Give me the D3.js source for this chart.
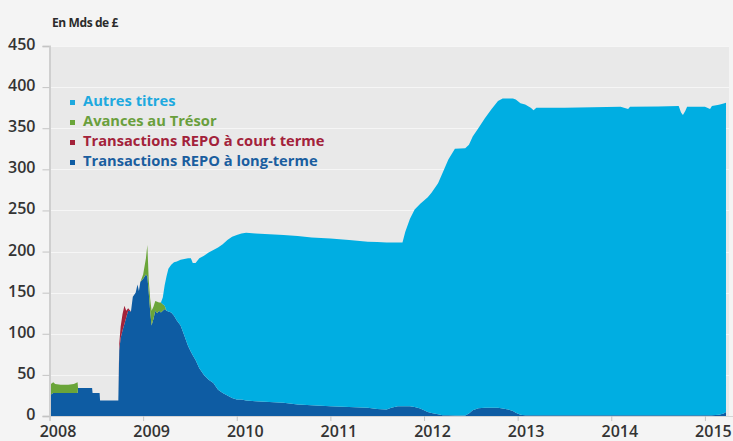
<!DOCTYPE html>
<html>
<head>
<meta charset="utf-8">
<script src="https://cdn.jsdelivr.net/npm/d3@7"></script>
<style>
  html, body { margin: 0; padding: 0; background: #f4f4f4; }
  svg { display: block; }
  text { font-family: "Open Sans", "DejaVu Sans", sans-serif; }
</style>
</head>
<body>
<svg id="chart" width="733" height="441"></svg>
<script>
// Bank of England balance-sheet assets, in £ bn, by date (decimal years)
const dates = [
  2008.000, 2008.015, 2008.040, 2008.060, 2008.120, 2008.200, 2008.260, 2008.300, 2008.305, 2008.455,
  2008.460, 2008.535, 2008.540, 2008.735, 2008.745, 2008.760, 2008.780, 2008.800, 2008.820, 2008.840,
  2008.870, 2008.890, 2008.920, 2008.940, 2008.955, 2008.970, 2009.000, 2009.030, 2009.045, 2009.060,
  2009.075, 2009.090, 2009.110, 2009.130, 2009.150, 2009.170, 2009.190, 2009.210, 2009.230, 2009.250,
  2009.270, 2009.300, 2009.330, 2009.360, 2009.400, 2009.440, 2009.480, 2009.510, 2009.530, 2009.560,
  2009.600, 2009.650, 2009.700, 2009.750, 2009.800, 2009.850, 2009.900, 2009.950, 2010.000, 2010.050,
  2010.100, 2010.200, 2010.350, 2010.500, 2010.650, 2010.800, 2011.000, 2011.200, 2011.400, 2011.500,
  2011.600, 2011.650, 2011.720, 2011.770, 2011.800, 2011.850, 2011.900, 2011.960, 2012.000, 2012.040,
  2012.080, 2012.150, 2012.200, 2012.260, 2012.330, 2012.440, 2012.480, 2012.520, 2012.580, 2012.650,
  2012.720, 2012.790, 2012.840, 2012.900, 2012.950, 2012.980, 2013.030, 2013.080, 2013.140, 2013.170,
  2013.200, 2013.500, 2013.800, 2014.100, 2014.180, 2014.200, 2014.500, 2014.720, 2014.745, 2014.765,
  2014.790, 2014.810, 2015.000, 2015.055, 2015.075, 2015.150, 2015.200, 2015.225
];

// Transactions REPO à long-terme
const repoLong = [
  20, 26, 28, 28, 28, 28, 28, 28, 34, 34,
  28, 28, 19, 19, 80, 95, 104, 112, 120, 128,
  127, 145, 150, 160, 152, 163, 167, 172, 170, 150,
  128, 110, 118, 128, 125, 128, 126, 128, 130, 128,
  127, 126, 122, 116, 110, 98, 85, 78, 74, 68,
  58, 50, 44, 40, 32, 28, 25, 22, 20, 20,
  19, 18, 17, 16, 14, 13, 12, 11, 10, 8.5,
  8, 10, 12, 12, 12, 12, 11, 9, 7, 5,
  3.5, 2, 1, 1, 0.5, 0.5, 3, 7, 9.5, 10,
  10, 10, 9, 8, 6, 4, 1.5, 1, 1, 1,
  1, 1, 1, 1, 1, 1, 1, 1, 1, 1,
  1, 1, 1, 1, 1, 1.5, 3, 5
];

// Transactions REPO à court terme
const repoShort = [
  0, 0, 0, 0, 0, 0, 0, 0, 0, 0,
  0, 0, 0, 0, 8, 14, 20, 22, 8, 3,
  0, 0, 0, 0, 0, 0, 0, 0, 0, 0,
  0, 0, 0, 0, 0, 0, 0, 0, 0, 0,
  0, 0, 0, 0, 0, 0, 0, 0, 0, 0,
  0, 0, 0, 0, 0, 0, 0, 0, 0, 0,
  0, 0, 0, 0, 0, 0, 0, 0, 0, 0,
  0, 0, 0, 0, 0, 0, 0, 0, 0, 0,
  0, 0, 0, 0, 0, 0, 0, 0, 0, 0,
  0, 0, 0, 0, 0, 0, 0, 0, 0, 0,
  0, 0, 0, 0, 0, 0, 0, 0, 0, 0,
  0, 0, 0, 0, 0, 0, 0, 0
];

// Avances au Trésor
const treasury = [
  17, 13, 13, 11, 10, 10, 11, 13, 0, 0,
  0, 0, 0, 0, 0, 0, 0, 0, 0, 0,
  0, 0, 0, 0, 0, 0, 5, 20, 38, 15,
  15, 18, 15, 12, 14, 10, 12, 8, 4, 0,
  0, 0, 0, 0, 0, 0, 0, 0, 0, 0,
  0, 0, 0, 0, 0, 0, 0, 0, 0, 0,
  0, 0, 0, 0, 0, 0, 0, 0, 0, 0,
  0, 0, 0, 0, 0, 0, 0, 0, 0, 0,
  0, 0, 0, 0, 0, 0, 0, 0, 0, 0,
  0, 0, 0, 0, 0, 0, 0, 0, 0, 0,
  0, 0, 0, 0, 0, 0, 0, 0, 0, 0,
  0, 0, 0, 0, 0, 0, 0, 0
];

// Autres titres
const otherSecurities = [
  0, 0, 0, 0, 0, 0, 0, 0, 0, 0,
  0, 0, 0, 0, 0, 0, 0, 0, 0, 0,
  0, 0, 0, 0, 0, 0, 0, 0, 0, 0,
  0, 0, 0, 0, 0, 0, 0, 8, 25, 42,
  52, 58, 65, 72, 80, 93, 107, 114, 112, 118,
  134, 145, 155, 162, 173, 181, 189, 196, 200, 202,
  204, 204, 204, 204, 205, 204, 204, 203, 202, 203,
  203, 201, 199, 199, 212, 228, 240, 249, 255, 261,
  268, 281, 295, 311, 324.5, 325, 327, 333, 340.5, 352,
  363, 373, 377, 378, 380, 381, 379, 378, 374, 371,
  374, 374, 374.5, 375, 372.5, 375, 375.5, 376, 368, 365,
  370, 375, 375, 372.5, 376, 377, 377, 376
];

const seriesKeys = ["repoLong", "repoShort", "treasury", "otherSecurities"];
const seriesColors = {
  repoLong: "#0e5ca3",
  repoShort: "#a3223a",
  treasury: "#6aa539",
  otherSecurities: "#00aee2"
};

const legendItems = [
  { label: "Autres titres", color: "#1ea9df", mark: "#1ea9df" },
  { label: "Avances au Trésor", color: "#6a9f3c", mark: "#6aa539" },
  { label: "Transactions REPO à court terme", color: "#a3223a", mark: "#a3223a" },
  { label: "Transactions REPO à long-terme", color: "#1a5e9f", mark: "#0e5ca3" }
];

const yTicks = [0, 50, 100, 150, 200, 250, 300, 350, 400, 450];
const xTicks = [2008, 2009, 2010, 2011, 2012, 2013, 2014, 2015];

const table = dates.map((d, i) => ({
  date: d,
  repoLong: repoLong[i],
  repoShort: repoShort[i],
  treasury: treasury[i],
  otherSecurities: otherSecurities[i]
}));

const svg = d3.select("#chart");
const plot = { left: 49.5, right: 733, top: 46, bottom: 416 };

const x = d3.scaleLinear().domain([2008, 2015.3]).range([plot.left, plot.right]);
const y = d3.scaleLinear().domain([0, 450]).range([plot.bottom, plot.top]);

// plot background
svg.append("rect")
  .attr("x", plot.left).attr("y", plot.top)
  .attr("width", 729 - plot.left).attr("height", plot.bottom - plot.top)
  .attr("fill", "#e9e9e9");

// horizontal gridlines
svg.append("g")
  .selectAll("line")
  .data(yTicks.slice(1))
  .join("line")
  .attr("x1", plot.left).attr("x2", 729)
  .attr("y1", d => Math.round(y(d)) + 0.5).attr("y2", d => Math.round(y(d)) + 0.5)
  .attr("stroke", "#f6f6f6").attr("stroke-width", 1);

// stacked areas
const stack = d3.stack().keys(seriesKeys);
const layers = stack(table);

const area = d3.area()
  .x(d => x(d.data.date))
  .y0(d => y(d[0]))
  .y1(d => y(d[1]));

svg.append("g")
  .selectAll("path")
  .data(layers)
  .join("path")
  .attr("fill", d => seriesColors[d.key])
  .attr("d", area);

// y axis
const yAxis = svg.append("g")
  .attr("transform", `translate(${plot.left},0)`)
  .call(d3.axisLeft(y).tickValues(yTicks).tickSize(7).tickPadding(7));
yAxis.select(".domain").attr("stroke", "#cfcfcf").attr("stroke-width", 2);
yAxis.selectAll(".tick line").attr("stroke", "#c4c4c4");
yAxis.selectAll(".tick text")
  .attr("dy", "0.22em")
  .attr("fill", "#333")
  .style("font-size", "16px")
  .style("font-weight", "600");

// x axis
const xAxis = svg.append("g")
  .attr("transform", `translate(0,${plot.bottom})`)
  .call(d3.axisBottom(x).tickValues(xTicks).tickFormat(d3.format("d")).tickSize(5).tickPadding(5));
xAxis.select(".domain").attr("stroke", "#d4d4d4");
xAxis.selectAll(".tick line").attr("stroke", "#c4c4c4");
xAxis.selectAll(".tick text")
  .attr("dx", 8)
  .attr("fill", "#333")
  .style("font-size", "16px")
  .style("font-weight", "600");

// unit label
svg.append("text")
  .attr("x", 52).attr("y", 27)
  .attr("fill", "#2b2b2b")
  .style("font-size", "12px")
  .style("font-weight", "700")
  .style("letter-spacing", "-0.4px")
  .text("En Mds de £");

// legend
const legend = svg.append("g").attr("transform", "translate(70,106)");
const rows = legend.selectAll("g")
  .data(legendItems)
  .join("g")
  .attr("transform", (d, i) => `translate(0,${i * 20})`);
rows.append("rect")
  .attr("x", 0).attr("y", -6).attr("width", 5).attr("height", 5)
  .attr("fill", d => d.mark);
rows.append("text")
  .attr("x", 13).attr("y", 0)
  .attr("fill", d => d.color)
  .style("font-size", "14.7px")
  .style("font-weight", "700")
  .text(d => d.label);
</script>
</body>
</html>
